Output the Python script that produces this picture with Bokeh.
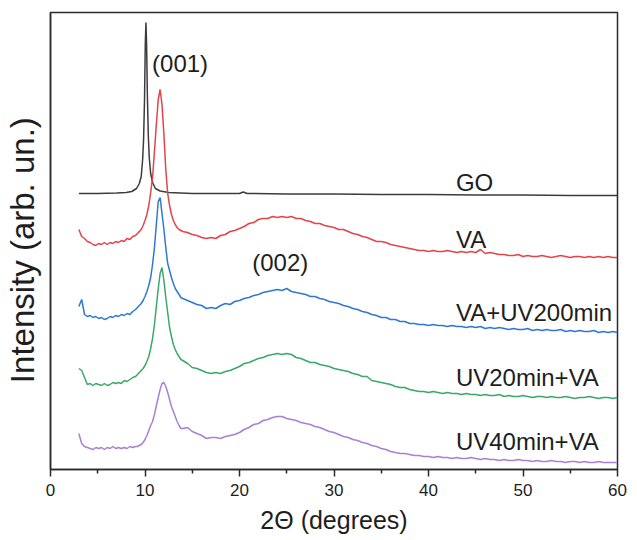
from bokeh.plotting import figure
from bokeh.models import Range1d, FixedTicker, Label
from bokeh.embed import file_html
from bokeh.resources import INLINE

# ---------------- data ----------------
go_x = [3.0, 5.0, 7.0, 8.0, 8.6, 9.1, 9.4, 9.6, 9.75, 9.85, 9.95, 10.03, 10.1, 10.17,
        10.25, 10.35, 10.45, 10.6, 10.8, 11.1, 11.6, 12.5, 15.0, 18.0, 20.0, 20.4, 20.8,
        25.0, 30.0, 35.0, 40.0, 45.0, 50.0, 55.0, 60.0]
go_y = [276, 276, 276.5, 277, 278, 281, 286, 293, 310, 330, 370, 425, 447, 425,
        375, 334, 312, 296, 287, 281, 278.5, 277, 276, 276, 276, 277.5, 276,
        275.5, 275.5, 275, 275, 274.5, 274.5, 274, 274]

two_theta = [
    3.0, 3.3, 3.6, 3.9, 4.2, 4.5, 4.8, 5.1, 5.4, 5.7, 6.0, 6.3, 6.6, 6.9, 7.2, 7.5, 7.8, 8.1, 8.4, 8.7, 9.0,
    9.2, 9.4, 9.6, 9.8, 10.0, 10.2, 10.4, 10.6, 10.8, 11.0, 11.2, 11.4, 11.6, 11.8, 12.0, 12.2, 12.4, 12.6,
    12.8, 13.0, 13.2, 13.4, 13.6, 13.8, 14.0,
    14.5, 15.0, 15.5, 16.0, 16.5, 17.0, 17.5, 18.0, 18.5, 19.0, 19.5, 20.0,
    20.5, 21.0, 21.5, 22.0, 22.5, 23.0, 23.5, 24.0, 24.5, 25.0,
    25.5, 26.0, 26.5, 27.0, 27.5, 28.0, 28.5, 29.0, 29.5, 30.0,
    30.5, 31.0, 31.5, 32.0, 32.5, 33.0, 33.5, 34.0, 34.5, 35.0,
    35.5, 36.0, 36.5, 37.0, 37.5, 38.0, 38.5, 39.0, 39.5, 40.0,
    40.5, 41.0, 41.5, 42.0, 42.5, 43.0, 43.5, 44.0, 44.5, 45.0,
    45.5, 46.0, 46.5, 47.0, 47.5, 48.0, 48.5, 49.0, 49.5, 50.0,
    50.5, 51.0, 51.5, 52.0, 52.5, 53.0, 53.5, 54.0, 54.5, 55.0,
    55.5, 56.0, 56.5, 57.0, 57.5, 58.0, 58.5, 59.0, 59.5, 60.0]

va_y = [
    240, 233, 231, 228, 227, 225, 224, 226, 225, 227, 225, 227, 226, 228, 227, 229, 228, 231, 230, 233, 234,
    236, 238, 240, 244, 249, 255, 264, 277, 292, 318, 345, 370, 380, 365, 335, 300, 276, 264,
    255, 249, 245, 242, 240, 239, 238,
    237, 235, 234, 232, 231, 232, 231, 234, 235, 238, 239, 241,
    243, 246, 247, 250, 251, 251, 253, 252, 253, 252,
    253, 251, 251, 249, 248, 246, 246, 244, 243, 242,
    240, 240, 238, 236, 235, 233, 232, 230, 228, 228,
    227, 225, 224, 223, 222, 221, 220, 219, 219, 218,
    219, 218, 218, 219, 218, 217, 218, 217, 218, 217,
    220, 216, 217, 216, 215, 215, 214, 214, 215, 213,
    214, 213, 213, 214, 213, 212, 213, 214, 213, 212,
    213, 213, 212, 213, 212, 213, 212, 213, 212, 212]

va_uv200_y = [
    163, 170, 155, 153, 154, 152, 153, 151, 152, 150, 151, 153, 152, 154, 153, 155, 154, 156, 155, 158, 160,
    162, 164, 166, 169, 173, 178, 184, 192, 205, 222, 245, 268, 272, 256, 240, 222, 206, 199,
    192, 186, 181, 178, 175, 172, 171,
    169, 167, 165, 164, 161, 162, 161, 164, 166, 165, 168, 169,
    171, 172, 174, 175, 177, 178, 179, 180, 179, 181,
    178, 177, 176, 175, 173, 173, 171, 170, 168, 167,
    166, 164, 163, 161, 160, 158, 157, 155, 154, 152,
    152, 150, 150, 148, 148, 146, 146, 145, 145, 144,
    145, 144, 144, 143, 144, 143, 143, 142, 143, 142,
    143, 141, 142, 141, 142, 141, 140, 141, 140, 140,
    141, 139, 140, 139, 140, 139, 139, 140, 138, 139,
    138, 139, 138, 138, 139, 137, 138, 137, 138, 137]

uv20_va_y = [
    101, 99, 92, 85, 86, 84, 86, 85, 84, 86, 84, 85, 87, 86, 87, 86, 89, 88, 90, 92, 93,
    95, 97, 99, 101, 104, 108, 113, 121, 131, 145, 163, 181, 196, 202, 189, 172, 157, 142,
    133, 125, 120, 116, 113, 110, 109,
    106, 102, 101, 99, 97, 96, 97, 96, 98, 99, 101, 103,
    106, 107, 109, 111, 112, 114, 115, 116, 115, 116,
    115, 112, 111, 109, 107, 107, 105, 104, 103, 101,
    100, 99, 98, 96, 95, 93, 93, 89, 88, 87,
    86, 85, 83, 82, 82, 80, 79, 78, 78, 77,
    78, 77, 76, 77, 76, 76, 75, 76, 75, 75,
    74, 75, 74, 74, 75, 73, 74, 73, 73, 74,
    73, 72, 73, 73, 72, 73, 72, 72, 73, 72,
    71, 72, 72, 73, 72, 71, 72, 72, 71, 72]

uv40_va_y = [
    36, 26, 23, 22, 21, 20, 22, 21, 22, 20, 22, 21, 23, 21, 22, 21, 22, 21, 23, 22, 23,
    23, 24, 25, 27, 30, 34, 39, 44, 48, 55, 64, 72, 80, 86, 87, 83, 77, 70,
    63, 58, 53, 48, 44, 41, 41,
    42, 38, 36, 34, 31, 32, 32, 31, 33, 34, 35, 37,
    40, 42, 45, 46, 49, 50, 52, 53, 53, 51,
    50, 49, 47, 46, 45, 43, 42, 40, 38, 37,
    35, 33, 32, 30, 29, 27, 26, 24, 23, 21,
    20, 18, 17, 16, 16, 15, 14, 14, 13, 13,
    12, 13, 12, 12, 11, 12, 11, 11, 12, 11,
    10, 11, 10, 10, 9, 10, 9, 9, 10, 9,
    9, 8, 9, 8, 8, 9, 8, 8, 7, 8,
    8, 7, 8, 7, 7, 8, 7, 7, 7, 7]

x_ticks = [0, 10, 20, 30, 40, 50, 60]
x_minor_ticks = [5, 15, 25, 35, 45, 55]

series_names = ["GO", "VA", "VA+UV200min", "UV20min+VA", "UV40min+VA"]
peak_names = ["(001)", "(002)"]

# ---------------- figure ----------------
FONT = "Liberation Sans"
TXT = "#1e1e1e"

p = figure(width=630, height=537, output_backend="svg", toolbar_location=None,
           x_range=Range1d(0, 60), y_range=Range1d(0, 457),
           min_border_left=49, min_border_right=13, min_border_top=12, min_border_bottom=68)

p.xgrid.visible = False
p.ygrid.visible = False
p.outline_line_color = "#2a2a2a"
p.outline_line_width = 1.5
p.background_fill_color = "white"
p.border_fill_color = "white"

colors = ["#3c3c3c", "#e2444a", "#2f78d6", "#3aa86c", "#aa7fd6"]
p.line(go_x, go_y, line_color=colors[0], line_width=1.5)
for ys, c in zip([va_y, va_uv200_y, uv20_va_y, uv40_va_y], colors[1:]):
    p.line(two_theta, ys, line_color=c, line_width=1.5)

# x axis
p.xaxis.ticker = FixedTicker(ticks=x_ticks, minor_ticks=x_minor_ticks)
p.xaxis.axis_label = "2\u0398 (degrees)"
p.xaxis.axis_label_text_font = FONT
p.xaxis.axis_label_text_font_size = "25px"
p.xaxis.axis_label_text_font_style = "normal"
p.xaxis.axis_label_text_color = TXT
p.xaxis.axis_label_standoff = 7
p.xaxis.major_label_text_font = FONT
p.xaxis.major_label_text_font_size = "17px"
p.xaxis.major_label_text_color = TXT
p.xaxis.major_label_standoff = 7
p.xaxis.axis_line_color = "#2a2a2a"
p.xaxis.axis_line_width = 1.5
p.xaxis.major_tick_line_color = "#2a2a2a"
p.xaxis.major_tick_line_width = 1.5
p.xaxis.minor_tick_line_color = "#2a2a2a"
p.xaxis.minor_tick_line_width = 1.5
p.xaxis.major_tick_in = 0
p.xaxis.major_tick_out = 7
p.xaxis.minor_tick_in = 0
p.xaxis.minor_tick_out = 4

# y axis (no ticks)
p.yaxis.ticker = FixedTicker(ticks=[])
p.yaxis.axis_label = "Intensity (arb. un.)\u00a0\u00a0"
p.yaxis.axis_label_text_font = FONT
p.yaxis.axis_label_text_font_size = "33px"
p.yaxis.axis_label_text_font_style = "normal"
p.yaxis.axis_label_text_color = TXT
p.yaxis.axis_label_standoff = 10
p.yaxis.axis_line_color = "#2a2a2a"
p.yaxis.axis_line_width = 1.5
p.yaxis.major_tick_out = 0
p.yaxis.major_tick_in = 0
p.yaxis.minor_tick_out = 0
p.yaxis.minor_tick_in = 0

# series labels
label_pos = [(42.9, 287), (42.9, 230), (42.9, 157), (42.9, 92), (42.9, 28)]
for name, (lx, ly) in zip(series_names, label_pos):
    p.add_layout(Label(x=lx, y=ly, text=name, text_font=FONT, text_font_size="24px",
                       text_color=TXT, text_align="left", text_baseline="middle"))

peak_pos = [(10.75, 406), (21.35, 207)]
for name, (lx, ly) in zip(peak_names, peak_pos):
    p.add_layout(Label(x=lx, y=ly, text=name, text_font=FONT, text_font_size="24px",
                       text_color=TXT, text_align="left", text_baseline="middle"))

open("out.html", "w").write(file_html(p, INLINE))
